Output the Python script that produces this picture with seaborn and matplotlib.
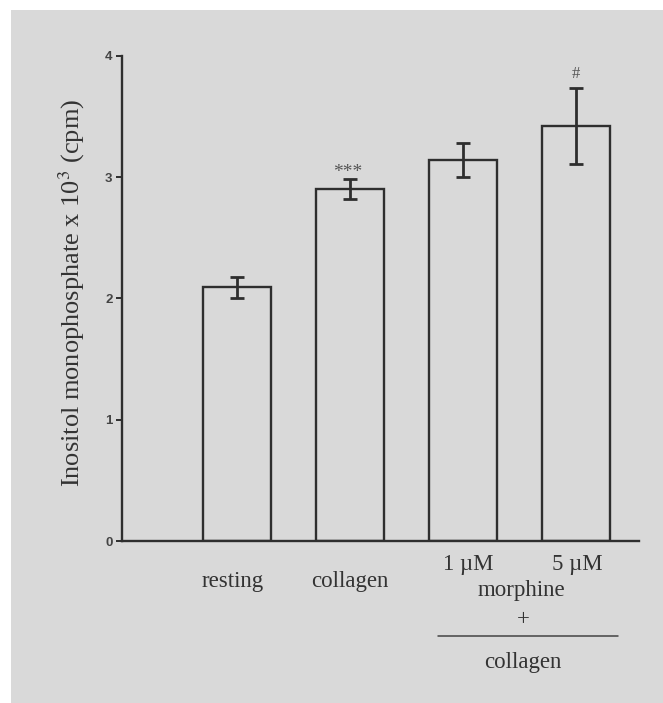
import matplotlib
matplotlib.use("Agg")
import matplotlib.pyplot as plt
from matplotlib.patches import Rectangle
from matplotlib.lines import Line2D
import seaborn as sns
import pandas as pd

# ---- data ----
categories = ["resting", "collagen", "1 µM", "5 µM"]
means = [2.09, 2.90, 3.14, 3.42]
sems = [0.09, 0.08, 0.14, 0.31]
significance = ["", "***", "", "#"]
yticks = [0, 1, 2, 3, 4]

sns.set_theme(style="white")
plt.rcParams["font.family"] = ["Liberation Serif", "DejaVu Serif"]
plt.rcParams["mathtext.fontset"] = "stix"

INK = "#2e2e2e"
BG = "#d9d9d9"

fig = plt.figure(figsize=(6.63, 7.03), dpi=100, facecolor="white")
# scanned page gray area
fig.add_artist(Rectangle((11 / 663, 0), 1 - 11 / 663, 1 - 10 / 703,
                         transform=fig.transFigure, facecolor=BG,
                         edgecolor="none", zorder=-10))

ax = fig.add_axes([0.1845, 0.2304, 0.7793, 0.6904])
ax.set_facecolor("none")

df = pd.DataFrame({"group": categories, "value": means})
sns.barplot(data=df, x="group", y="value", order=categories, ax=ax,
            fill=False, color=INK, linewidth=1.7, width=0.6,
            errorbar=None)
for p in ax.patches:
    p.set_edgecolor(INK)
    p.set_linewidth(1.7)

ax.errorbar(range(len(categories)), means, yerr=sems, fmt="none",
            ecolor=INK, elinewidth=2.0, capsize=4.7, capthick=2.0, zorder=5)

for i, (m, s, lab) in enumerate(zip(means, sems, significance)):
    if not lab:
        continue
    if lab == "***":
        ax.text(i - 0.02, m + s + 0.06, lab, ha="center", va="center",
                fontsize=14, color="#555555")
    else:
        ax.text(i, m + s + 0.12, lab, ha="center", va="center",
                fontsize=12, color="#555555")

ax.set_xlim(-1.015, 3.558)
ax.set_ylim(0, 4)
ax.set_yticks(yticks)
ax.set_yticklabels([str(t) for t in yticks], family=["Liberation Sans", "DejaVu Sans"],
                   fontsize=9.5, fontweight="bold", color="#444444")
ax.set_xticks([])
ax.set_xlabel("")
ax.tick_params(axis="y", direction="out", length=4, width=1.4, color=INK, pad=3, left=True)

for side in ["top", "right"]:
    ax.spines[side].set_visible(False)
for side in ["left", "bottom"]:
    ax.spines[side].set_color(INK)
    ax.spines[side].set_linewidth(1.7)

ax.set_ylabel(r"Inositol monophosphate x 10$^{3}$ (cpm)", fontsize=19, color="#333333")
ax.yaxis.set_label_coords(-0.0973, 0.511)
ax.yaxis.label.set_verticalalignment("center")

tx = ax.get_xaxis_transform()
txt_kw = dict(ha="center", va="center", fontsize=16.5, color="#333333", transform=tx)
ax.text(-0.035, -0.0839, categories[0], **txt_kw)
ax.text(1.0, -0.0839, categories[1], **txt_kw)
ax.text(2.044, -0.0484, categories[2], **txt_kw)
ax.text(3.01, -0.0484, categories[3], **txt_kw)
ax.text(2.513, -0.101, "morphine", **txt_kw)
ax.text(2.53, -0.161, "+", **txt_kw)
ax.text(2.526, -0.251, "collagen", **txt_kw)
ax.add_line(Line2D([1.776, 3.37], [-0.196, -0.196], transform=tx,
                   color="#444444", linewidth=1.1, clip_on=False))

fig.savefig("out.png", dpi=100, facecolor=fig.get_facecolor())
